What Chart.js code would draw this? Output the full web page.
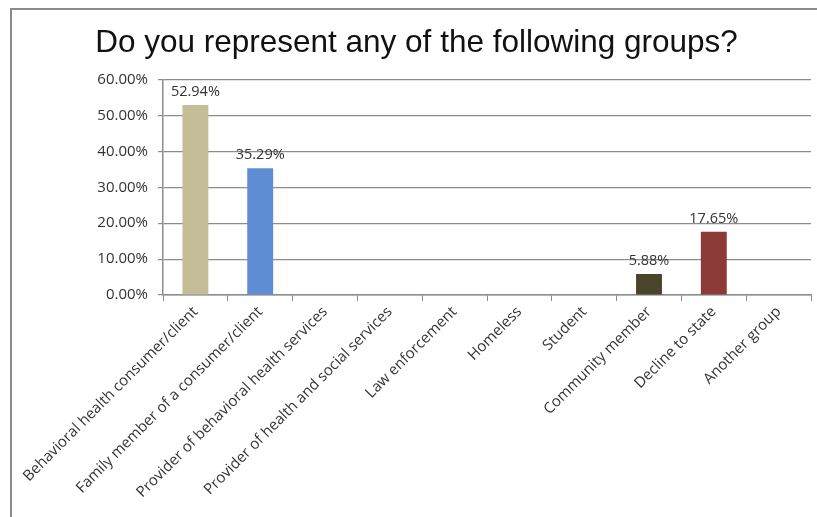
<!DOCTYPE html>
<html>
<head>
<meta charset="utf-8">
<script src="https://cdn.jsdelivr.net/npm/chart.js@4/dist/chart.umd.min.js"></script>
<style>
  html, body { margin: 0; padding: 0; background: #fff; }
  #wrap { position: relative; width: 817px; height: 517px; overflow: hidden; }
  #frame { position: absolute; left: 10px; top: 8px; width: 900px; height: 600px;
           border-left: 2px solid #8a8a8a; border-top: 2px solid #8a8a8a; pointer-events: none; }
  canvas { position: absolute; left: 0; top: 0; }
</style>
</head>
<body>
<div id="wrap">
  <canvas id="c" width="817" height="517"></canvas>
  <div id="frame"></div>
</div>
<script>
// Survey answers: share of respondents per group (percent)
const categories = [
  'Behavioral health consumer/client',
  'Family member of a consumer/client',
  'Provider of behavioral health services',
  'Provider of health and social services',
  'Law enforcement',
  'Homeless',
  'Student',
  'Community member',
  'Decline to state',
  'Another group'
];
const shares = [52.94, 35.29, 0, 0, 0, 0, 0, 5.88, 17.65, 0];
const barColors = ['#C4BD97', '#5F8DD3', '#C4BD97', '#C4BD97', '#C4BD97',
                   '#C4BD97', '#C4BD97', '#4A452A', '#8C3A37', '#C4BD97'];
const yTicks = [0, 10, 20, 30, 40, 50, 60];

const tickFont = { family: '"Open Sans", sans-serif', size: 15 };
const gridColor = '#8c8c8c';

// Writes each non-zero value above its bar
const valueLabels = {
  id: 'valueLabels',
  afterDatasetsDraw(chart) {
    const ctx = chart.ctx;
    const meta = chart.getDatasetMeta(0);
    ctx.save();
    ctx.font = '14.5px "Open Sans", sans-serif';
    ctx.fillStyle = '#333';
    ctx.textAlign = 'center';
    ctx.textBaseline = 'bottom';
    meta.data.forEach((bar, i) => {
      const v = shares[i];
      if (v > 0) ctx.fillText(v.toFixed(2) + '%', bar.x, bar.y - 6);
    });
    ctx.restore();
  }
};

new Chart(document.getElementById('c'), {
  type: 'bar',
  data: {
    labels: categories,
    datasets: [{
      data: shares,
      backgroundColor: barColors,
      barPercentage: 0.8,
      categoryPercentage: 0.5
    }]
  },
  plugins: [valueLabels],
  options: {
    responsive: false,
    animation: false,
    layout: { padding: { left: 22, right: 6, top: 0, bottom: 0 } },
    plugins: {
      legend: { display: false },
      tooltip: { enabled: false },
      title: {
        display: true,
        text: 'Do you represent any of the following groups?',
        color: '#111',
        font: { family: '"Liberation Sans", Arial, sans-serif', size: 31.5, weight: 'normal', lineHeight: 1.1 },
        padding: { top: 26, bottom: 19 }
      }
    },
    scales: {
      x: {
        grid: { drawOnChartArea: false, drawTicks: true, tickLength: 6, color: gridColor, offset: true },
        border: { color: gridColor, width: 1.5 },
        ticks: {
          color: '#333',
          font: tickFont,
          minRotation: 45,
          maxRotation: 45,
          autoSkip: false,
          padding: 2
        },
        afterFit(scale) { scale.height = 222; }
      },
      y: {
        min: 0,
        max: 60,
        afterBuildTicks(scale) { scale.ticks = yTicks.map(v => ({ value: v })); },
        grid: { color: gridColor, lineWidth: 1.2, drawTicks: true, tickLength: 5 },
        border: { color: gridColor, width: 1.5 },
        ticks: {
          color: '#333',
          font: tickFont,
          padding: 10,
          callback: v => v.toFixed(2) + '%'
        },
        afterFit(scale) { scale.width = 141; }
      }
    }
  }
});
</script>
</body>
</html>
